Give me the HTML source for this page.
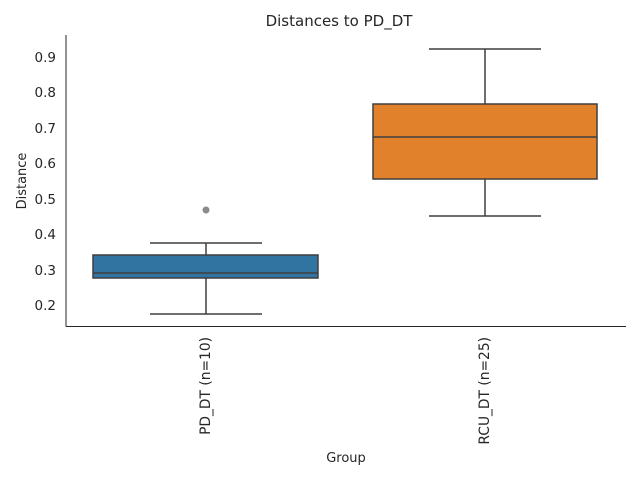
<!DOCTYPE html>
<html><head><style>body{margin:0;background:#fff}</style></head><body>
<svg width="640" height="480" xmlns="http://www.w3.org/2000/svg" font-family="DejaVu Sans, sans-serif">
<rect width="640" height="480" fill="#fff"/>
<text x="339" y="26" text-anchor="middle" font-size="15" fill="#262626">Distances to PD_DT</text>
<line x1="66" y1="35" x2="66" y2="326.5" stroke="#262626" stroke-width="1"/>
<line x1="66" y1="326.5" x2="626" y2="326.5" stroke="#262626" stroke-width="1"/>
<g font-size="13.5" fill="#262626" text-anchor="end">
<text x="56" y="62">0.9</text><text x="56" y="97">0.8</text><text x="56" y="133">0.7</text>
<text x="56" y="168">0.6</text><text x="56" y="204">0.5</text><text x="56" y="239">0.4</text>
<text x="56" y="275">0.3</text><text x="56" y="310">0.2</text>
</g>
<text transform="translate(26,181) rotate(-90)" text-anchor="middle" font-size="13" fill="#262626">Distance</text>
<text x="346" y="462" text-anchor="middle" font-size="13" fill="#262626">Group</text>
<text transform="translate(210,337) rotate(-90)" text-anchor="end" font-size="13.8" fill="#262626">PD_DT (n=10)</text>
<text transform="translate(489,337) rotate(-90)" text-anchor="end" font-size="13.8" fill="#262626">RCU_DT (n=25)</text>
<g stroke="#3f3f3f" stroke-width="1.5">
<line x1="206" y1="278" x2="206" y2="314"/><line x1="206" y1="255" x2="206" y2="243"/>
<line x1="150" y1="314" x2="262" y2="314"/><line x1="150" y1="243" x2="262" y2="243"/>
<rect x="93" y="255" width="225" height="23" fill="#3274a1"/>
<line x1="93" y1="273" x2="318" y2="273"/>
<line x1="485" y1="179" x2="485" y2="216"/><line x1="485" y1="104" x2="485" y2="49"/>
<line x1="429" y1="216" x2="541" y2="216"/><line x1="429" y1="49" x2="541" y2="49"/>
<rect x="373" y="104" width="224" height="75" fill="#e1812c"/>
<line x1="373" y1="137" x2="597" y2="137"/>
</g>
<circle cx="206" cy="210" r="3.5" fill="#8a8a8a"/>
</svg>
</body></html>
